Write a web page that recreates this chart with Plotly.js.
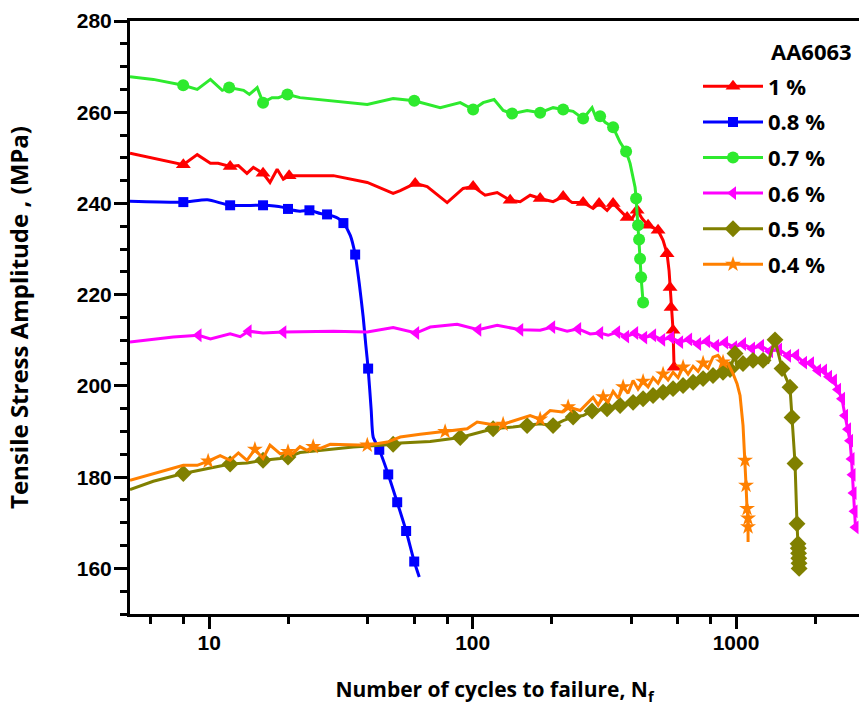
<!DOCTYPE html>
<html>
<head>
<meta charset="utf-8">
<script src="https://cdn.plot.ly/plotly-3.0.1.min.js"></script>
<style>
  html, body { margin: 0; padding: 0; background: #ffffff; overflow: hidden; }
  #chart { width: 859px; height: 711px; }
</style>
</head>
<body>
<div id="chart"></div>
<script>
// Fatigue life curves of AA6063 at six strain amplitudes:
// cycles N (log scale) against tensile stress amplitude (MPa).

// 1 % strain amplitude
const n1 = [5.0, 7.97, 9.0, 10.1, 10.8, 12.0, 12.9, 13.9, 14.7, 16.0, 17.0, 18.1, 19.1, 20.1, 29.6, 39.8, 49.9, 53.1, 60.5, 67.2, 80, 92, 100.4, 111.5, 123.9, 138.8, 151.5, 165.3, 180.4, 202, 220.6, 238.6, 262.7, 286.6, 302, 323.9, 341.4, 369.4, 385.9, 403.1, 421.1, 439.9, 463.4, 484.2, 505.8, 528.4, 547.1, 556.8, 561.7, 566.6, 576.6, 581.7];
const s1 = [251.0, 248.5, 250.7, 248.8, 248.8, 248.1, 248.3, 246.6, 247.9, 246.6, 244.6, 247.5, 245.3, 246.1, 246.1, 244.6, 242.2, 242.8, 244.4, 243.7, 240.2, 243.3, 243.7, 241.8, 242.4, 240.7, 240.4, 241.8, 241.1, 240.4, 241.5, 240.2, 240.2, 238.9, 240.0, 238.5, 240.0, 238.0, 236.9, 236.7, 238.5, 236.7, 235.2, 234.7, 234.1, 231.9, 229.0, 225.3, 221.6, 217.2, 212.2, 204.1];
const mk1 = [1, 5, 9, 13, 18, 22, 25, 28, 30, 32, 34, 36, 38, 40, 42, 44, 46, 48, 49, 50, 51];

// 0.8 % strain amplitude
const n08 = [5.0, 7.97, 9.83, 12.0, 16.0, 18.9, 19.9, 22.1, 24.0, 26.4, 28.0, 30.9, 32.3, 34.3, 35.8, 37.1, 38.4, 39.3, 40.1, 41.2, 41.9, 44.2, 47.8, 51.7, 55.9, 60.0, 62.7];
const s08 = [240.5, 240.3, 240.8, 239.6, 239.6, 239.2, 238.8, 238.3, 238.5, 237.8, 237.6, 236.7, 235.7, 233.0, 228.8, 222.5, 215.1, 208.9, 203.8, 194.6, 188.8, 186.0, 180.6, 174.5, 168.2, 161.5, 158.1];
const mk08 = [1, 3, 4, 6, 8, 10, 12, 14, 18, 21, 22, 23, 24, 25];

// 0.7 % strain amplitude
const n07 = [5.0, 6.13, 7.96, 9.0, 10.1, 11.2, 11.9, 13.5, 14.2, 15.2, 16.0, 17.3, 18.3, 19.8, 22.1, 39.8, 49.9, 60.0, 75.3, 89.7, 100.4, 109.6, 120.6, 130.6, 141.2, 161, 180.4, 202, 220.6, 240.7, 262.7, 284, 291.7, 304.7, 318.4, 341.4, 362.9, 382.4, 396, 413.8, 417.4, 424.6, 428.5, 432.2, 436, 443.7];
const s07 = [267.8, 267.2, 265.9, 265.0, 267.2, 264.8, 265.4, 264.8, 263.9, 265.4, 262.1, 263.2, 263.2, 263.9, 263.2, 261.7, 263.0, 262.5, 261.0, 262.1, 260.6, 262.1, 262.8, 260.4, 259.7, 260.4, 259.9, 261.0, 260.6, 260.2, 258.6, 261.0, 259.3, 259.1, 257.8, 256.7, 253.4, 251.4, 248.8, 243.5, 241.1, 235.2, 232.1, 227.9, 223.8, 218.3];
const mk07 = [2, 6, 10, 13, 17, 20, 24, 26, 28, 30, 33, 35, 37, 40, 41, 42, 43, 44, 45];

// 0.6 % strain amplitude
const n06 = [5.0, 6.52, 7.3, 9.1, 10.1, 12.0, 13.1, 14.1, 16.0, 19.1, 29.6, 39.8, 49.9, 61.0, 69.0, 87.3, 105, 123.9, 151.5, 180.4, 200.3, 228.4, 251.4, 279.2, 304.7, 326.8, 353.4, 382.4, 413.8, 447.7, 484.2, 524.0, 566.6, 613.0, 663.2, 717.4, 776.2, 839.7, 908.4, 982.7, 1063, 1150, 1244, 1346, 1456, 1575, 1690, 1812, 1926, 2048, 2158, 2254, 2354, 2438, 2525, 2592, 2661, 2708, 2744, 2768, 2792, 2817, 2841];
const s06 = [209.6, 210.3, 210.7, 211.1, 210.3, 211.4, 210.8, 212.0, 211.6, 211.8, 212.0, 211.8, 212.8, 211.6, 212.9, 213.5, 212.3, 213.3, 212.3, 212.2, 212.9, 212.0, 212.5, 211.4, 211.6, 211.1, 211.8, 210.8, 211.6, 210.6, 211.1, 210.1, 210.6, 209.6, 210.2, 209.2, 209.8, 208.8, 209.5, 208.5, 209.2, 208.2, 208.8, 207.6, 208.0, 206.6, 206.7, 205.1, 205.0, 203.4, 203.4, 202.0, 201.2, 199.2, 197.2, 193.5, 190.5, 188.0, 184.0, 180.5, 176.5, 172.5, 169.0];
const mk06 = [3, 7, 9, 13, 16, 18, 20, 22, 24, 26, 27, 28, 29, 30, 31, 32, 33, 34, 35, 36, 37, 38, 39, 40, 41, 42, 43, 44, 45, 46, 47, 48, 49, 50, 51, 52, 53, 54, 55, 56, 57, 58, 59, 60, 61, 62];

// 0.5 % strain amplitude
const n05 = [5.0, 6.13, 7.97, 9.83, 12.0, 13.9, 16.0, 18.6, 19.9, 22.1, 26.4, 35.2, 44.6, 49.9, 53.1, 69.0, 89.7, 119.6, 142.4, 161, 180.4, 202, 220.6, 240.7, 262.7, 284, 304.7, 323.9, 362.9, 406.6, 443.7, 484.2, 528.4, 576.6, 629.4, 686.9, 749.7, 817.8, 892.5, 948.9, 991.3, 1008.8, 1063, 1160, 1266, 1323, 1406, 1495, 1603, 1632, 1675, 1704, 1719, 1724, 1728, 1731, 1734, 1736];
const s05 = [177.3, 179.1, 180.8, 181.9, 182.9, 183.1, 183.7, 184.1, 184.4, 185.4, 185.9, 186.6, 187.0, 187.2, 187.5, 187.8, 188.7, 190.6, 191.0, 191.3, 191.7, 191.3, 192.4, 193.2, 193.5, 194.5, 194.8, 195.0, 195.7, 196.4, 197.2, 197.9, 198.6, 199.4, 200.1, 200.8, 201.6, 202.3, 203.0, 203.6, 207.1, 203.8, 204.9, 205.6, 205.6, 205.2, 210.1, 203.8, 199.7, 193.1, 183.0, 169.8, 165.4, 164.4, 163.3, 162.2, 161.1, 160.0];
const mk05 = [2, 4, 6, 8, 13, 16, 17, 19, 21, 23, 25, 27, 28, 29, 30, 31, 32, 33, 34, 35, 36, 37, 38, 39, 40, 42, 43, 44, 46, 47, 48, 49, 50, 51, 52, 53, 54, 55, 56, 57];

// 0.4 % strain amplitude
const n04 = [5.0, 6.13, 7.97, 9.0, 9.9, 11.0, 12.0, 12.9, 13.9, 14.9, 16.0, 17.0, 18.6, 19.9, 20.8, 22.1, 23.5, 24.8, 26.4, 28.8, 35.2, 39.8, 47.4, 53.1, 63.2, 78.6, 95.3, 104, 116.5, 130.5, 142.4, 165.3, 180.4, 196.9, 218.6, 230.4, 255.9, 286.6, 299.5, 312.9, 326.8, 341.4, 356.6, 372.6, 389.1, 406.6, 424.6, 443.7, 463.4, 484.2, 505.8, 528.4, 552.0, 576.6, 602.4, 629.4, 657.6, 686.9, 717.4, 749.7, 783.0, 817.8, 854.3, 892.5, 932.4, 974.1, 1008.8, 1035.6, 1063.1, 1081.9, 1091.4, 1101, 1110.5, 1110.5, 1111];
const s04 = [179.3, 180.8, 182.6, 182.6, 183.5, 184.7, 183.7, 185.3, 183.7, 186.1, 184.1, 187.0, 185.1, 185.6, 185.2, 186.7, 185.9, 186.7, 186.3, 187.2, 187.0, 187.0, 187.7, 188.8, 189.4, 190.0, 190.6, 192.1, 191.6, 191.6, 192.3, 193.5, 192.7, 194.6, 194.3, 195.4, 194.6, 197.5, 195.8, 197.6, 196.5, 198.8, 197.3, 199.8, 198.4, 201.2, 199.3, 201.0, 199.8, 201.8, 200.6, 202.6, 201.3, 203.0, 201.8, 204.1, 202.6, 204.3, 203.2, 205.0, 203.9, 206.3, 206.7, 205.2, 204.9, 202.7, 200.5, 197.9, 191.3, 183.7, 178.2, 173.1, 171.0, 169.1, 165.8];
const mk04 = [4, 9, 13, 17, 21, 25, 29, 32, 35, 39, 43, 47, 51, 55, 59, 63, 69, 70, 71, 72, 73];

// Axis tick labels
const xTickVals = [10, 100, 1000];
const xTickText = ['10', '100', '1000'];
const xMinorVals = [6, 8, 20, 40, 60, 80, 200, 400, 600, 800, 2000];
const yTickVals = [160, 180, 200, 220, 240, 260, 280];
const yTickText = ['160', '180', '200', '220', '240', '260', '280'];

const series = [
  { name: '1 %',   n: n1,  s: s1,  mk: mk1,  color: '#ff0000', symbol: 'triangle-up',   size: 13 },
  { name: '0.8 %', n: n08, s: s08, mk: mk08, color: '#0000ff', symbol: 'square',        size: 10, shape: 'spline' },
  { name: '0.7 %', n: n07, s: s07, mk: mk07, color: '#2eea2e', symbol: 'circle',        size: 12 },
  { name: '0.6 %', n: n06, s: s06, mk: mk06, color: '#ff00ff', symbol: 'triangle-left', size: 12 },
  { name: '0.5 %', n: n05, s: s05, mk: mk05, color: '#808000', symbol: 'diamond',       size: 13 },
  { name: '0.4 %', n: n04, s: s04, mk: mk04, color: '#ff8000', symbol: 'star',          size: 12 }
];

const traces = [];
series.forEach((d, i) => {
  const g = 'g' + i;
  // curve through every reading
  traces.push({
    type: 'scatter', mode: 'lines', x: d.n, y: d.s,
    line: { color: d.color, width: 3, shape: d.shape || 'linear', smoothing: 0.6 },
    legendgroup: g, showlegend: false, hoverinfo: 'skip'
  });
  // symbols on the selected readings
  traces.push({
    type: 'scatter', mode: 'markers',
    x: d.mk.map(k => d.n[k]), y: d.mk.map(k => d.s[k]),
    marker: { symbol: d.symbol, size: d.size, color: d.color, line: { width: 0 } },
    legendgroup: g, showlegend: false
  });
  // legend entry (line with symbol)
  traces.push({
    type: 'scatter', mode: 'lines+markers', x: [null], y: [null], name: d.name,
    line: { color: d.color, width: 3 },
    marker: { symbol: d.symbol, size: d.size, color: d.color, line: { width: 0 } },
    legendgroup: g, showlegend: true
  });
});

const tickFont = { family: 'Liberation Sans, Arial, sans-serif', size: 21, color: '#000', weight: 'bold' };
const textFont = 'Open Sans, Noto Sans, sans-serif';

const layout = {
  width: 859, height: 711,
  margin: { l: 130, r: 0, t: 21, b: 97, pad: 0 },
  paper_bgcolor: '#ffffff', plot_bgcolor: '#ffffff',
  showlegend: true,
  xaxis: {
    type: 'log', range: [Math.log10(5), Math.log10(2930)],
    showline: true, linecolor: '#000', linewidth: 3, mirror: true,
    ticks: 'outside', ticklen: 12, tickwidth: 3, tickcolor: '#000',
    tickmode: 'array', tickvals: xTickVals, ticktext: xTickText,
    ticklabelstandoff: -4,
    tickfont: tickFont, showgrid: false, zeroline: false,
    minor: { tickmode: 'array', tickvals: xMinorVals, ticks: 'outside', ticklen: 7, tickwidth: 3, tickcolor: '#000', showgrid: false },
    title: { text: 'Number of cycles to failure, N<sub>f</sub>', standoff: 30,
             font: { family: textFont, size: 21, color: '#000', weight: 'bold' } }
  },
  yaxis: {
    range: [150, 280],
    showline: true, linecolor: '#000', linewidth: 3, mirror: false,
    ticks: 'outside', ticklen: 13, tickwidth: 3, tickcolor: '#000',
    tickmode: 'array', tickvals: yTickVals, ticktext: yTickText,
    ticklabelstandoff: -2,
    tickfont: tickFont, showgrid: false, zeroline: false,
    minor: { tickmode: 'linear', tick0: 150, dtick: 5, ticks: 'outside', ticklen: 7, tickwidth: 3, tickcolor: '#000', showgrid: false },
    title: { text: 'Tensile Stress Amplitude , (MPa)', standoff: 42,
             font: { family: textFont, size: 24, color: '#000', weight: 'bold' } }
  },
  legend: {
    x: (698 - 130) / 729, xanchor: 'left',
    y: (614 - 65.5) / 593, yanchor: 'top',
    bgcolor: 'rgba(0,0,0,0)', borderwidth: 0,
    itemwidth: 60,
    font: { family: textFont, size: 22, color: '#000', weight: 'bold' },
    traceorder: 'grouped', tracegroupgap: 4
  },
  annotations: [
    {
      text: 'AA6063',
      xref: 'paper', yref: 'paper',
      x: (769 - 130) / 729, y: (614 - 51) / 593, xanchor: 'left', yanchor: 'middle',
      showarrow: false, font: { family: textFont, size: 22, color: '#000', weight: 'bold' }
    }
  ]
};

Plotly.newPlot('chart', traces, layout, { displayModeBar: false, staticPlot: true });
</script>
</body>
</html>
